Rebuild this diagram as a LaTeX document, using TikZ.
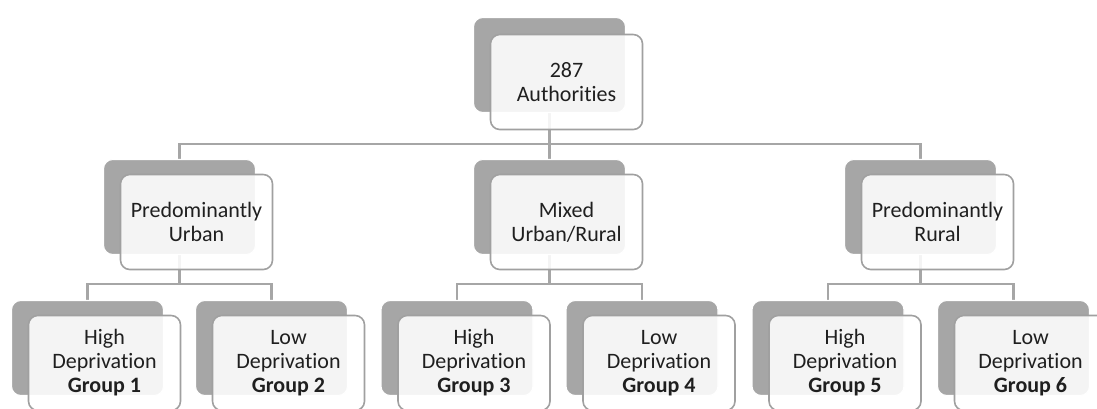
\documentclass[tikz,border=0pt]{standalone}
\usepackage{fontspec}
\setmainfont{Carlito}[Ligatures=NoCommon]
\usetikzlibrary{positioning}
\pgfdeclarelayer{background}
\pgfsetlayers{background,main}
\definecolor{shade}{HTML}{A6A6A6}
\definecolor{rim}{HTML}{A0A0A0}
\definecolor{ink}{HTML}{1F1F1F}

\begin{document}
\begin{tikzpicture}[x=0.75pt,y=-0.75pt,
  back/.style={draw=white,line width=0.8pt,fill=shade,rounded corners=7pt,
    minimum width=114pt,minimum height=71.25pt,inner sep=0pt},
  front/.style={draw=rim,line width=1.2pt,fill=white,fill opacity=0.88,
    text opacity=1,rounded corners=7pt,minimum width=114pt,
    minimum height=71.25pt,inner sep=0pt,align=center,text=ink,
    font=\fontsize{16.5}{18}\selectfont},
  link/.style={draw=shade,line width=1.6pt}]
  \useasboundingbox (0,0) rectangle (1097,408);

  % top level
  \node[back]  (topb) at (549.5,65) {};
  \node[front] (top)  at ([shift={(17,17)}]topb) {287\\Authorities};

  % second level
  \node[back]  (urbanb) at (179.5,207) {};
  \node[front] (urban)  at ([shift={(17,15)}]urbanb) {Predominantly\\Urban};
  \node[back]  (mixedb) at (549.5,207) {};
  \node[front] (mixed)  at ([shift={(17,15)}]mixedb) {Mixed\\Urban/Rural};
  \node[back]  (ruralb) at (920.5,207) {};
  \node[front] (rural)  at ([shift={(17,15)}]ruralb) {Predominantly\\Rural};

  % groups
  \node[back]  (g1b) at (87.5,348) {};
  \node[front] (g1)  at ([shift={(17,15)}]g1b) {High\\Deprivation\\\textbf{Group 1}};
  \node[back]  (g2b) at (271.5,348) {};
  \node[front] (g2)  at ([shift={(17,15)}]g2b) {Low\\Deprivation\\\textbf{Group 2}};
  \node[back]  (g3b) at (457,348) {};
  \node[front] (g3)  at ([shift={(17,15)}]g3b) {High\\Deprivation\\\textbf{Group 3}};
  \node[back]  (g4b) at (642,348) {};
  \node[front] (g4)  at ([shift={(17,15)}]g4b) {Low\\Deprivation\\\textbf{Group 4}};
  \node[back]  (g5b) at (828,348) {};
  \node[front] (g5)  at ([shift={(17,15)}]g5b) {High\\Deprivation\\\textbf{Group 5}};
  \node[back]  (g6b) at (1013.5,348) {};
  \node[front] (g6)  at ([shift={(17,15)}]g6b) {Low\\Deprivation\\\textbf{Group 6}};

  \begin{pgfonlayer}{background}
    \draw[link] (topb.center) -- (topb.center |- 0,144) -| (urbanb.north);
    \draw[link] (topb.center) -- (topb.center |- 0,144) -| (ruralb.north);
    \draw[link] (topb.center) -- (mixedb.north);
    \draw[link] (urbanb.center) -- (urbanb.center |- 0,284) -| (g1b.north);
    \draw[link] (urbanb.center) -- (urbanb.center |- 0,284) -| (g2b.north);
    \draw[link] (mixedb.center) -- (mixedb.center |- 0,284) -| (g3b.north);
    \draw[link] (mixedb.center) -- (mixedb.center |- 0,284) -| (g4b.north);
    \draw[link] (ruralb.center) -- (ruralb.center |- 0,284) -| (g5b.north);
    \draw[link] (ruralb.center) -- (ruralb.center |- 0,284) -| (g6b.north);
  \end{pgfonlayer}
\end{tikzpicture}
\end{document}
